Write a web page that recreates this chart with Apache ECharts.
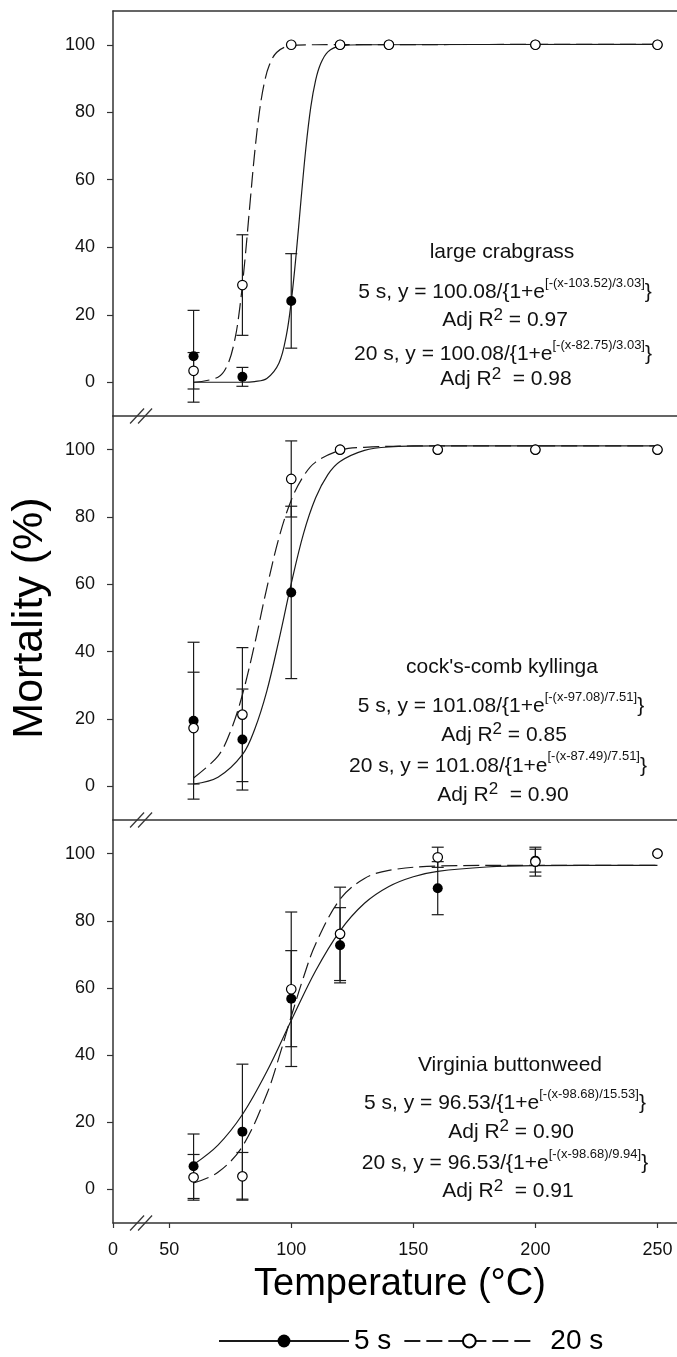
<!DOCTYPE html>
<html>
<head>
<meta charset="utf-8">
<title>Mortality vs temperature</title>
<script src="https://cdn.jsdelivr.net/npm/echarts@6.0.0/dist/echarts.min.js"></script>
<style>
    html, body { margin: 0; padding: 0; background: #fff; }
    #main { width: 677px; height: 1357px; }
</style>
</head>
<body>
<div id="main"></div>
<script>
// x axis is broken: the value 0 sits at the start of the axis
var xAxisStart = 27;
var xAxisEnd = 258;
var xBreakAt = 38.5;
var xTicks = [0, 50, 100, 150, 200, 250];
var yTicks = [0, 20, 40, 60, 80, 100];

// large crabgrass
var crabX = [60, 80, 100, 120, 140, 200, 250];
var crab5 = [7.7, 1.6, 24.1, 100, 100, 100, 100];
var crab5Err = [13.6, 2.8, 14, 0, 0, 0, 0];
var crab20 = [3.4, 28.8, 100, 100, 100, 100, 100];
var crab20Err = [5.4, 14.9, 0, 0, 0, 0, 0];
var crabFit5X = [60, 80, 85, 90, 95, 98, 100, 102, 104, 106, 108, 110, 112, 115, 120, 130, 250];
var crabFit5Y = [0, 0, 0.2, 1.1, 5.7, 13.9, 23.9, 37.8, 54.0, 69.4, 81.5, 89.5, 94.3, 97.9, 99.6, 100, 100.1];
var crabFit20X = [60, 70, 74, 77, 79, 81, 83, 85, 87, 89, 91, 94, 99, 110, 250];
var crabFit20Y = [0, 1.5, 5.3, 13.0, 22.5, 36.0, 52.1, 67.8, 80.3, 88.8, 93.9, 97.7, 99.6, 100, 100.1];
var crabNotes = ['large crabgrass',
    '5 s, y = 100.08/{1+e{s|[-(x-103.52)/3.03]}}',
    'Adj R{r|2} = 0.97',
    '20 s, y = 100.08/{1+e{s|[-(x-82.75)/3.03]}}',
    'Adj R{r|2}  = 0.98'];

// cock's-comb kyllinga
var kylX = [60, 80, 100, 120, 160, 200, 250];
var kyl5 = [19.5, 13.9, 57.6, 100, 100, 100, 100];
var kyl5Err = [23.3, 15, 25.6, 0, 0, 0, 0];
var kyl20 = [17.3, 21.3, 91.3, 100, 100, 100, 100];
var kyl20Err = [16.6, 19.9, 11.3, 0, 0, 0, 0];
var kylFit5X = [60, 70, 80, 85, 90, 95, 100, 105, 110, 115, 120, 130, 140, 160, 250];
var kylFit5Y = [0.7, 2.7, 9.4, 16.9, 28.3, 43.6, 60.2, 75.0, 85.7, 92.6, 96.5, 99.8, 100.8, 101.1, 101.1];
var kylFit20X = [60, 70, 75, 80, 85, 90, 95, 100, 105, 110, 120, 130, 150, 250];
var kylFit20Y = [2.5, 9.0, 16.1, 27.2, 42.2, 58.9, 73.9, 85.0, 92.1, 96.3, 99.8, 100.7, 101.1, 101.1];
var kylNotes = ["cock's-comb kyllinga",
    '5 s, y = 101.08/{1+e{s|[-(x-97.08)/7.51]}}',
    'Adj R{r|2} = 0.85',
    '20 s, y = 101.08/{1+e{s|[-(x-87.49)/7.51]}}',
    'Adj R{r|2}  = 0.90'];

// Virginia buttonweed
var vbX = [60, 80, 100, 120, 160, 200, 250];
var vb5 = [6.9, 17.2, 56.8, 72.7, 89.7, 97.9, 100];
var vb5Err = [9.6, 20.1, 14.3, 11.2, 7.9, 3.4, 0];
var vb20 = [3.6, 3.9, 59.6, 76.1, 98.9, 97.6, 100];
var vb20Err = [6.8, 7.1, 23, 13.9, 3, 4.3, 0];
var vbFit5X = [60, 70, 80, 90, 100, 110, 120, 130, 140, 150, 160, 180, 200, 250];
var vbFit5Y = [7.4, 13.2, 22.3, 35.1, 50.3, 65.1, 77.0, 85.2, 90.2, 93.1, 94.7, 96.0, 96.4, 96.5];
var vbFit20X = [60, 70, 80, 90, 95, 100, 105, 110, 120, 130, 140, 160, 200, 250];
var vbFit20Y = [1.9, 5.1, 12.8, 28.4, 39.4, 51.5, 63.1, 73.1, 86.4, 92.6, 95.0, 96.3, 96.5, 96.5];
var vbNotes = ['Virginia buttonweed',
    '5 s, y = 96.53/{1+e{s|[-(x-98.68)/15.53]}}',
    'Adj R{r|2} = 0.90',
    '20 s, y = 96.53/{1+e{s|[-(x-98.68)/9.94]}}',
    'Adj R{r|2}  = 0.91'];

var panels = [
    {x: crabX, y5: crab5, e5: crab5Err, y20: crab20, e20: crab20Err,
        fx5: crabFit5X, fy5: crabFit5Y, fx20: crabFit20X, fy20: crabFit20Y, notes: crabNotes},
    {x: kylX, y5: kyl5, e5: kyl5Err, y20: kyl20, e20: kyl20Err,
        fx5: kylFit5X, fy5: kylFit5Y, fx20: kylFit20X, fy20: kylFit20Y, notes: kylNotes},
    {x: vbX, y5: vb5, e5: vb5Err, y20: vb20, e20: vb20Err,
        fx5: vbFit5X, fy5: vbFit5Y, fx20: vbFit20X, fy20: vbFit20Y, notes: vbNotes}
];

// layout
var FONT = '"Liberation Sans", Arial, sans-serif';
var INK = '#1a1a1a';
var AXIS = '#333';
var gridTop = [11, 416, 820];
var gridH = [405, 404, 403];
var noteX = [[502, 505, 505, 503, 506], [502, 501, 504, 498, 503], [510, 505, 511, 505, 508]];
var noteY = [[252, 292.5, 320.5, 354.5, 379.5], [667, 706.5, 735, 766, 795], [1065, 1103.5, 1132, 1163.5, 1191.5]];

var xTickPos = xTicks.map(function (v) { return v === 0 ? xAxisStart : v; });

function zip(a, b) {
    return a.map(function (v, i) { return [v, b[i]]; });
}
function errData(x, y, e) {
    var out = [];
    x.forEach(function (v, i) {
        if (e[i] > 0) out.push([v, y[i] - e[i], y[i] + e[i]]);
    });
    return out;
}
function renderErr(params, api) {
    var lo = api.coord([api.value(0), api.value(1)]);
    var hi = api.coord([api.value(0), api.value(2)]);
    var w = 6;
    var st = {stroke: INK, lineWidth: 1.2};
    return {
        type: 'group',
        children: [
            {type: 'line', shape: {x1: lo[0], y1: lo[1], x2: hi[0], y2: hi[1]}, style: st},
            {type: 'line', shape: {x1: lo[0] - w, y1: lo[1], x2: lo[0] + w, y2: lo[1]}, style: st},
            {type: 'line', shape: {x1: hi[0] - w, y1: hi[1], x2: hi[0] + w, y2: hi[1]}, style: st}
        ]
    };
}

var grids = [], xAxes = [], yAxes = [], series = [];
panels.forEach(function (p, i) {
    var last = i === panels.length - 1;
    grids.push({left: 113, right: 0, top: gridTop[i], height: gridH[i], outerBoundsMode: 'none'});
    xAxes.push({
        type: 'value', gridIndex: i, min: xAxisStart, max: xAxisEnd,
        axisLine: {show: true, onZero: false, lineStyle: {color: AXIS, width: 1.5}},
        axisTick: {show: last, inside: false, length: 5, customValues: xTickPos, lineStyle: {color: AXIS, width: 1.2}},
        axisLabel: {
            show: last, customValues: xTickPos, margin: 18, fontSize: 18, fontFamily: FONT, color: '#111',
            formatter: function (v) {
                var k = xTickPos.indexOf(v);
                return k >= 0 ? String(xTicks[k]) : '';
            }
        },
        splitLine: {show: false},
        name: last ? 'Temperature (°C)' : '',
        nameLocation: 'middle', nameGap: 43,
        nameTextStyle: {fontSize: 38, fontFamily: FONT, color: '#000', padding: [0, 0, 0, 10]}
    });
    yAxes.push({
        type: 'value', gridIndex: i, min: -10, max: 110,
        axisLine: {show: true, onZero: false, lineStyle: {color: AXIS, width: 1.5}},
        axisTick: {show: true, inside: false, length: 6, customValues: yTicks, lineStyle: {color: AXIS, width: 1.2}},
        axisLabel: {customValues: yTicks, margin: 18, fontSize: 18, fontFamily: FONT, color: '#111'},
        splitLine: {show: false},
        name: i === 1 ? 'Mortality (%)' : '',
        nameLocation: 'middle', nameRotate: 90, nameGap: 61,
        nameTextStyle: {fontSize: 43, fontFamily: FONT, color: '#000'}
    });

    // fitted curves (legend entries come from these)
    series.push({
        type: 'line', name: '5 s', xAxisIndex: i, yAxisIndex: i, data: zip(p.fx5, p.fy5),
        smooth: 0.35, showSymbol: false, symbol: 'circle', symbolSize: 12,
        itemStyle: {color: '#000'}, lineStyle: {color: INK, width: 1.2}, z: 2, silent: true
    });
    series.push({
        type: 'line', name: '20 s', xAxisIndex: i, yAxisIndex: i, data: zip(p.fx20, p.fy20),
        smooth: 0.35, showSymbol: false, symbol: 'circle', symbolSize: 12,
        itemStyle: {color: '#fff', borderColor: '#000', borderWidth: 1.3},
        lineStyle: {color: INK, width: 1.2, type: [16, 6]}, z: 2, silent: true
    });
    // error bars
    series.push({
        type: 'custom', name: 'err5', xAxisIndex: i, yAxisIndex: i,
        data: errData(p.x, p.y5, p.e5), renderItem: renderErr, z: 3, silent: true
    });
    series.push({
        type: 'custom', name: 'err20', xAxisIndex: i, yAxisIndex: i,
        data: errData(p.x, p.y20, p.e20), renderItem: renderErr, z: 3, silent: true
    });
    // observed means
    series.push({
        type: 'scatter', name: 'obs5', xAxisIndex: i, yAxisIndex: i, data: zip(p.x, p.y5),
        symbol: 'circle', symbolSize: 10, itemStyle: {color: '#000', opacity: 1}, z: 4, silent: true
    });
    series.push({
        type: 'scatter', name: 'obs20', xAxisIndex: i, yAxisIndex: i, data: zip(p.x, p.y20),
        symbol: 'circle', symbolSize: 9.5,
        itemStyle: {color: '#fff', borderColor: '#000', borderWidth: 1.2, opacity: 1}, z: 5, silent: true
    });
});
// top border of the first panel
xAxes.push({
    type: 'value', gridIndex: 0, position: 'top', min: xAxisStart, max: xAxisEnd,
    axisLine: {show: true, onZero: false, lineStyle: {color: AXIS, width: 1.5}},
    axisTick: {show: false}, axisLabel: {show: false}, splitLine: {show: false}
});

var option = {
    backgroundColor: '#fff',
    animation: false,
    grid: grids,
    xAxis: xAxes,
    yAxis: yAxes,
    legend: {
        data: [{name: '5 s'}, {name: '20 s', textStyle: {padding: [0, 0, 0, 11]}}],
        left: 213, top: 1322, selectedMode: false,
        itemWidth: 130, itemHeight: 16, itemGap: 12,
        textStyle: {fontSize: 28, fontFamily: FONT, color: '#000'}
    },
    series: series
};

var chart = echarts.init(document.getElementById('main'));
chart.setOption(option);

// annotation text and axis-break marks
var elements = [];
panels.forEach(function (p, i) {
    p.notes.forEach(function (t, j) {
        var isEq = t.indexOf('{s|') >= 0;
        var isAdj = t.indexOf('{r|') >= 0;
        elements.push({
            type: 'text', x: noteX[i][j], y: noteY[i][j], silent: true,
            style: {
                text: t, fill: '#111', fontSize: 21, fontFamily: FONT,
                lineHeight: isEq ? 32 : (isAdj ? 28 : 24),
                align: 'center', verticalAlign: 'middle',
                rich: {
                    s: {fontSize: 13, lineHeight: 13, fontFamily: FONT, fill: '#111', verticalAlign: 'top'},
                    r: {fontSize: 17, lineHeight: 17, fontFamily: FONT, fill: '#111', verticalAlign: 'top'}
                }
            }
        });
    });
    var bp = chart.convertToPixel({gridIndex: i}, [xBreakAt, -10]);
    [0, 1].forEach(function (k) {
        var x1 = bp[0] - 11 + 8 * k;
        elements.push({
            type: 'line', silent: true,
            shape: {x1: x1, y1: bp[1] + 7.5, x2: x1 + 14, y2: bp[1] - 7.5},
            style: {stroke: AXIS, lineWidth: 1.2}
        });
    });
});
chart.setOption({graphic: {elements: elements}});
</script>
</body>
</html>
